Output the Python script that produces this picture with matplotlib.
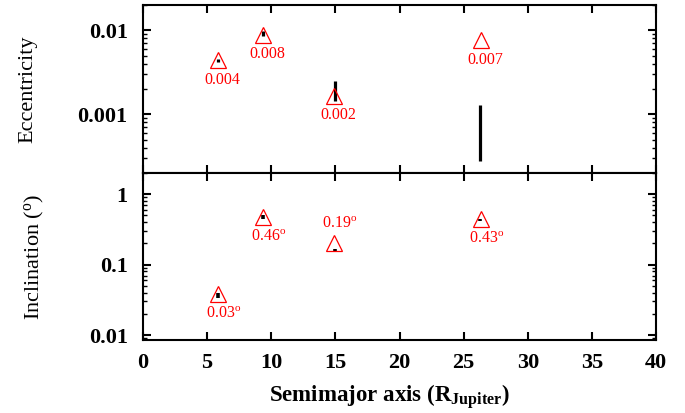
import matplotlib
matplotlib.use("Agg")
import matplotlib.pyplot as plt
from matplotlib.ticker import LogLocator, NullFormatter, FixedLocator, FixedFormatter

plt.rcParams['font.family'] = ['Liberation Serif', 'DejaVu Serif']
plt.rcParams['mathtext.fontset'] = 'custom'
plt.rcParams['mathtext.rm'] = 'Liberation Serif'
plt.rcParams['mathtext.bf'] = 'Liberation Serif:bold'
plt.rcParams['mathtext.it'] = 'Liberation Serif:italic'

# Triangle (reference) values
tri_a = [5.85, 9.36, 14.9, 26.35]
tri_ecc = [0.0044, 0.0089, 0.00165, 0.0076]
tri_inc = [0.038, 0.47, 0.20, 0.44]
ecc_labels = ["0.004", "0.008", "0.002", "0.007"]
inc_labels = ["0.03$^{\\mathrm{o}}$", "0.46$^{\\mathrm{o}}$", "0.19$^{\\mathrm{o}}$", "0.43$^{\\mathrm{o}}$"]
inc_label_above = [False, False, True, False]

# Simulated ranges (black)
sim_a = [5.85, 9.36, 14.95, 26.3]
ecc_lo = [0.0042, 0.0085, 0.00145, 0.00028]
ecc_hi = [0.0046, 0.0097, 0.0025, 0.0013]
inc_lo = [0.034, 0.45, 0.155, 0.42]
inc_hi = [0.039, 0.50, 0.165, 0.45]

xticks = [0, 5, 10, 15, 20, 25, 30, 35, 40]

fig = plt.figure(figsize=(6.85, 4.13), dpi=100)
L, W = 143/685, 513/685
ax1 = fig.add_axes([L, 1-173/413, W, 168/413])
ax2 = fig.add_axes([L, 1-340/413, W, 167/413])

red = '#ff0000'
TICKFS = 16
LABFS = 16
for ax in (ax1, ax2):
    ax.set_xlim(0, 40)
    ax.set_yscale('log')
    ax.xaxis.set_major_locator(FixedLocator(xticks))
    ax.tick_params(which='both', direction='in', top=True, right=True)
    ax.tick_params(which='major', length=6, width=1.5)
    ax.tick_params(which='minor', length=3, width=1)
    ax.tick_params(axis='x', which='minor', length=0)
    ax.tick_params(axis='y', which='major', pad=11)
    ax.tick_params(axis='x', which='major', pad=9)
    for s in ax.spines.values():
        s.set_linewidth(1.5)
    ax.yaxis.set_minor_locator(LogLocator(base=10, subs=range(2, 10), numticks=20))
    ax.yaxis.set_minor_formatter(NullFormatter())

# Top panel
ax1.set_ylim(0.0002, 0.02)
ax1.vlines(sim_a, ecc_lo, ecc_hi, colors='black', linewidth=2.3)
ax1.plot(tri_a, tri_ecc, linestyle='none', marker='^', markersize=11,
         markerfacecolor='none', markeredgecolor=red, markeredgewidth=0.9)
for x, y, t in zip(tri_a, tri_ecc, ecc_labels):
    ax1.annotate(t, (x, y), xytext=(3, -14), textcoords='offset points',
                 ha='center', va='center', color=red, fontsize=11.5)
ax1.yaxis.set_major_locator(FixedLocator([0.001, 0.01]))
ax1.yaxis.set_major_formatter(FixedFormatter(["0.001", "0.01"]))
ax1.tick_params(axis='x', labelbottom=False)
ax1.tick_params(axis='y', labelsize=TICKFS)
for lab in ax1.get_yticklabels():
    lab.set_fontweight('bold')
ax1.set_ylabel("Eccentricity", fontsize=LABFS)
ax1.yaxis.set_label_coords(-0.205, 0.5)

# Bottom panel
ax2.set_ylim(0.0085, 2.0)
ax2.vlines(sim_a, inc_lo, inc_hi, colors='black', linewidth=2.6)
ax2.plot(tri_a, tri_inc, linestyle='none', marker='^', markersize=11,
         markerfacecolor='none', markeredgecolor=red, markeredgewidth=0.9)
for x, y, t, up in zip(tri_a, tri_inc, inc_labels, inc_label_above):
    dy = 14 if up else -14
    ax2.annotate(t, (x, y), xytext=(4, dy), textcoords='offset points',
                 ha='center', va='center', color=red, fontsize=11.5)
ax2.yaxis.set_major_locator(FixedLocator([0.01, 0.1, 1]))
ax2.yaxis.set_major_formatter(FixedFormatter(["0.01", "0.1", "1"]))
ax2.tick_params(axis='both', labelsize=TICKFS)
for lab in ax2.get_yticklabels() + ax2.get_xticklabels():
    lab.set_fontweight('bold')
ax2.set_ylabel("Inclination ($^{\\mathrm{o}}$)", fontsize=LABFS)
ax2.yaxis.set_label_coords(-0.19, 0.5)
ax2.set_xlabel("Semimajor axis (R$_{\\mathbf{Jupiter}}$)", fontsize=16.5, fontweight='bold')
ax2.xaxis.set_label_coords(0.48, -0.255)
ax2.xaxis.label.set_va('top')

fig.savefig("out.png", dpi=100)
